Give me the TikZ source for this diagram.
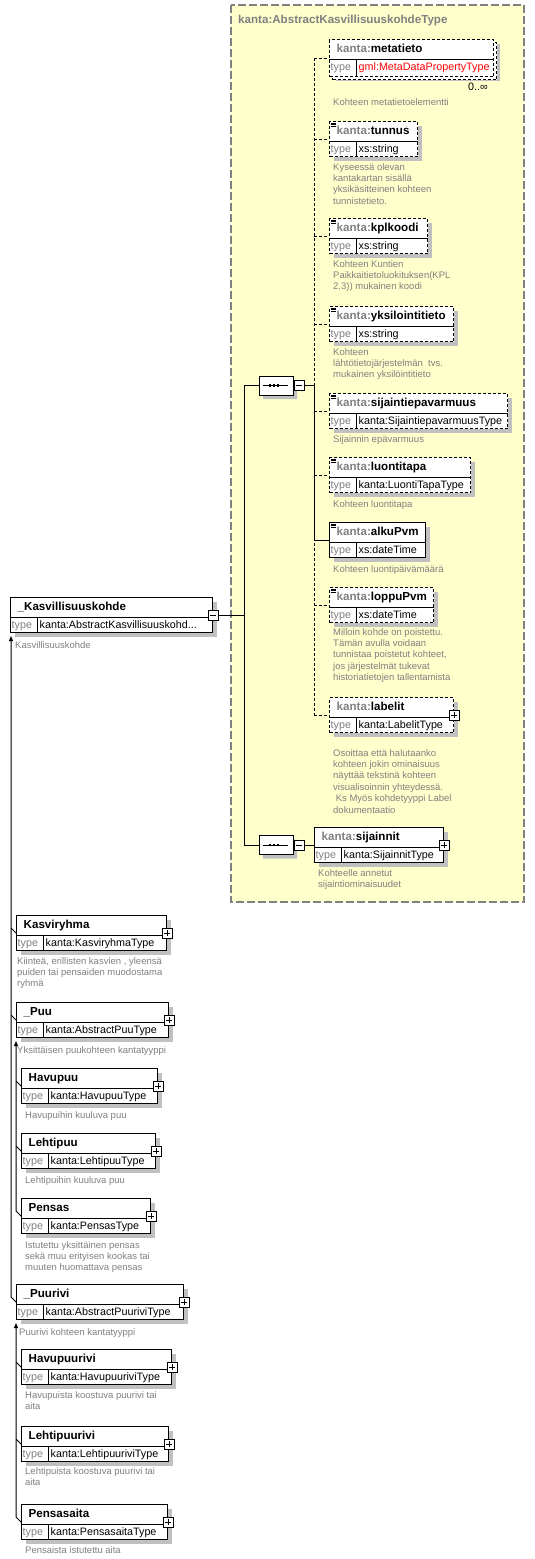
\documentclass[tikz,border=0pt]{standalone}
\usepackage{fontspec}
\setmainfont{Liberation Sans}
\usetikzlibrary{calc,positioning,shapes.misc,arrows.meta}

\definecolor{framefill}{RGB}{255,255,204}
\definecolor{framegray}{RGB}{128,128,128}
\definecolor{labelgray}{RGB}{128,128,128}
\definecolor{shadowgray}{RGB}{192,192,192}
\definecolor{reftype}{RGB}{255,0,0}

\newcommand{\kanta}[1]{\textcolor{labelgray}{kanta:}#1}

% element box: id, style, north west corner, width, header, type
\newcommand{\schemabox}[6]{%
  \node[#2, minimum width=#4, anchor=north west] (#1) at (#3) {};
  \draw[line width=1pt] ($(#1.north west)+(0,20)$) -- ($(#1.north east)+(0,20)$)
    ($(#1.north west)+(27,20)$) -- ($(#1.south west)+(27,0)$);
  \node[headtxt, anchor=west] (#1-head) at ($(#1.north west)+(7.5,9.5)$) {#5};
  \node[typetxt, text=labelgray, anchor=west] (#1-lbl) at ($(#1.north west)+(1.5,27.5)$) {type};
  \node[typetxt, anchor=west] (#1-type) at ($(#1.north west)+(29.5,27.5)$) {#6};
}
% small icon for simple content
\newcommand{\simpleicon}[1]{%
  \draw[line width=0.7pt] \foreach \d in {2,3.8,5.6} {($(#1.north west)+(1.5,\d)$) -- ++(5,0)};
}

\tikzset{
  shadowed/.style={preaction={fill=shadowgray, transform canvas={shift={(4,4)}}}},
  elemcore/.style={rectangle, draw=black, line width=1pt, fill=white, inner sep=0pt, minimum height=35},
  elembox/.style={elemcore, shadowed},
  optbox/.style={elembox, dash pattern=on 3pt off 2pt},
  multibox/.style={elemcore, dash pattern=on 3pt off 2pt, minimum height=37,
    preaction={fill=shadowgray, transform canvas={shift={(6,4)}}},
    preaction={fill=white, draw=black, transform canvas={shift={(3,3)}}}},
  signbox/.style={rectangle, draw=black, solid, line width=0.8pt, fill=white, minimum size=10, inner sep=0pt},
  plusbox/.style={signbox, path picture={\draw[line width=0.8pt]
    ([xshift=2pt]path picture bounding box.west) -- ([xshift=-2pt]path picture bounding box.east)
    ([yshift=-2pt]path picture bounding box.north) -- ([yshift=2pt]path picture bounding box.south);}},
  minusbox/.style={signbox, path picture={\draw[line width=0.8pt]
    ([xshift=2pt]path picture bounding box.west) -- ([xshift=-2pt]path picture bounding box.east);}},
  seqnode/.style={chamfered rectangle, chamfered rectangle xsep=5pt, chamfered rectangle ysep=5pt,
    draw=black, line width=1pt, fill=white, minimum width=34, minimum height=19, inner sep=0pt, shadowed},
  typeframe/.style={draw=framegray, fill=framefill, line width=1.2pt, dash pattern=on 8pt off 3pt},
  headtxt/.style={font=\fontsize{11.6}{13}\selectfont\bfseries, inner sep=0pt, text height=9pt, text depth=1pt},
  titletxt/.style={headtxt, text=labelgray},
  typetxt/.style={font=\fontsize{10.75}{12}\selectfont, inner sep=0pt, text height=8pt, text depth=1pt},
  desc/.style={font=\fontsize{9.5}{11.4}\selectfont, text=labelgray, inner sep=0pt, anchor=north west,
    align=left, execute at begin node=\strut},
  conn/.style={draw=black, line width=1pt},
  optline/.style={conn, dash pattern=on 3pt off 2pt},
  substline/.style={conn, shorten >=3pt, -{Triangle[length=5pt,width=4pt]}}
}

\begin{document}
\begin{tikzpicture}[x=1pt,y=-1pt]
\useasboundingbox (0,0) rectangle (535,1559);

% complex type
\draw[typeframe] (231,5) rectangle (524,902);
\node[titletxt, anchor=west] (frametitle) at (238,19.5) {kanta:AbstractKasvillisuuskohdeType};

% sequences
\node[seqnode] (seqA) at (276,385.5) {};
\node[minusbox, right=0pt of seqA] (seqA-m) {};
\node[seqnode] (seqB) at (276,845) {};
\node[minusbox, right=0pt of seqB] (seqB-m) {};
\foreach \s in {seqA,seqB} {
  \draw[conn] ([xshift=4pt]\s.west) -- ([xshift=-6pt]\s.east);
  \foreach \dx in {-6,-2,2}
    \fill ($(\s.center)+({\dx-1},-1.2)$) rectangle ++(2,2.4);
}

% elements of the first sequence
\schemabox{metatieto}{multibox}{329,39}{164}{\kanta{metatieto}}{\textcolor{reftype}{gml:MetaDataPropertyType}}
\node[typetxt, anchor=east] (metatieto-occ) at (488,87) {0..∞};
\schemabox{tunnus}{optbox}{329,121}{88}{\kanta{tunnus}}{xs:string}
\schemabox{kplkoodi}{optbox}{329,218}{98}{\kanta{kplkoodi}}{xs:string}
\schemabox{yksilointitieto}{optbox}{329,306}{124}{\kanta{yksilointitieto}}{xs:string}
\schemabox{sijaintiepavarmuus}{optbox}{329,393}{178}{\kanta{sijaintiepavarmuus}}{kanta:SijaintiepavarmuusType}
\schemabox{luontitapa}{optbox}{329,457}{141}{\kanta{luontitapa}}{kanta:LuontiTapaType}
\schemabox{alkuPvm}{elembox}{329,522}{96}{\kanta{alkuPvm}}{xs:dateTime}
\schemabox{loppuPvm}{optbox}{329,587}{104}{\kanta{loppuPvm}}{xs:dateTime}
\schemabox{labelit}{optbox}{329,697}{124}{\kanta{labelit}}{kanta:LabelitType}
\foreach \e in {tunnus,kplkoodi,yksilointitieto,sijaintiepavarmuus,luontitapa,alkuPvm,loppuPvm}
  \simpleicon{\e};

% element of the second sequence
\schemabox{sijainnit}{elembox}{314,827}{129}{\kanta{sijainnit}}{kanta:SijainnitType}

% root and substitution group members
\schemabox{kasvi}{elembox}{10,597}{202}{\_Kasvillisuuskohde}{kanta:AbstractKasvillisuuskohd...}
\schemabox{kasviryhma}{elembox}{16,915}{150}{Kasviryhma}{kanta:KasviryhmaType}
\schemabox{puu}{elembox}{16,1002}{152}{\_Puu}{kanta:AbstractPuuType}
\schemabox{havupuu}{elembox}{21,1068}{136}{Havupuu}{kanta:HavupuuType}
\schemabox{lehtipuu}{elembox}{21,1133}{134}{Lehtipuu}{kanta:LehtipuuType}
\schemabox{pensas}{elembox}{21,1198}{129}{Pensas}{kanta:PensasType}
\schemabox{puurivi}{elembox}{16,1284}{167}{\_Puurivi}{kanta:AbstractPuuriviType}
\schemabox{havupuurivi}{elembox}{21,1349}{150}{Havupuurivi}{kanta:HavupuuriviType}
\schemabox{lehtipuurivi}{elembox}{21,1426}{147}{Lehtipuurivi}{kanta:LehtipuuriviType}
\schemabox{pensasaita}{elembox}{21,1504}{146}{Pensasaita}{kanta:PensasaitaType}

% expand buttons
\node[minusbox] (kasvi-m) at (kasvi.east) {};
\foreach \e in {labelit,sijainnit,kasviryhma,puu,havupuu,lehtipuu,pensas,puurivi,havupuurivi,lehtipuurivi,pensasaita}
  \node[plusbox] (\e-p) at (\e.east) {};

% connectors
\coordinate (trunk) at ($(seqA.west)+(-14,0)$);
\coordinate (busA) at ($(seqA-m.east)+(10,0)$);
\draw[conn] (kasvi-m.east) -- (kasvi-m.east -| trunk);
\draw[conn] (seqA.west) -- (trunk) |- (seqB.west);
\draw[optline] (busA |- metatieto.west) -- (busA |- labelit.west);
\foreach \e in {metatieto,tunnus,kplkoodi,yksilointitieto,sijaintiepavarmuus,luontitapa,loppuPvm,labelit}
  \draw[optline] (busA |- \e.west) -- (\e.west);
\draw[conn] (seqA-m.east) -- (busA) |- (alkuPvm.west);
\draw[conn] (seqB-m.east) -- (sijainnit.west);

% substitution groups
\draw[substline] (puurivi.west) -- ++(-5,-5) coordinate (puurivi-t) -- (puurivi-t |- kasvi.south);
\draw[conn] (kasviryhma.west) -- ++(-5,-5);
\draw[conn] (puu.west) -- ++(-5,-5);
\draw[substline] (pensas.west) -- ++(-5,-5) coordinate (pensas-t) -- (pensas-t |- puu.south);
\draw[conn] (havupuu.west) -- ++(-5,-5);
\draw[conn] (lehtipuu.west) -- ++(-5,-5);
\draw[substline] (pensasaita.west) -- ++(-5,-5) coordinate (pensasaita-t) -- (pensasaita-t |- puurivi.south);
\draw[conn] (havupuurivi.west) -- ++(-5,-5);
\draw[conn] (lehtipuurivi.west) -- ++(-5,-5);

% documentation
\node[desc] (metatieto-doc) at (333,97) {Kohteen metatietoelementti};
\node[desc] (tunnus-doc) at (333,163) {Kyseessä olevan\\kantakartan sisällä\\yksikäsitteinen kohteen\\tunnistetieto.};
\node[desc] (kplkoodi-doc) at (333,260) {Kohteen Kuntien\\Paikkaitietoluokituksen(KPL\\2.3)) mukainen koodi};
\node[desc] (yksilointitieto-doc) at (333,348) {Kohteen\\lähtötietojärjestelmän\ \ tvs.\\mukainen yksilöintitieto};
\node[desc] (sijaintiepavarmuus-doc) at (333,434) {Sijainnin epävarmuus};
\node[desc] (luontitapa-doc) at (333,499) {Kohteen luontitapa};
\node[desc] (alkuPvm-doc) at (333,564) {Kohteen luontipäivämäärä};
\node[desc] (loppuPvm-doc) at (333,628) {Milloin kohde on poistettu.\\Tämän avulla voidaan\\tunnistaa poistetut kohteet,\\jos järjestelmät tukevat\\historiatietojen tallentamista};
\node[desc] (labelit-doc) at (333,749) {Osoittaa että halutaanko\\kohteen jokin ominaisuus\\näyttää tekstinä kohteen\\visualisoinnin yhteydessä.\\\ Ks Myös kohdetyyppi Label\\dokumentaatio};
\node[desc] (sijainnit-doc) at (318,869) {Kohteelle annetut\\sijaintiominaisuudet};
\node[desc] (kasvi-doc) at (15,640) {Kasvillisuuskohde};
\node[desc] (kasviryhma-doc) at (17,957) {Kiinteä, erillisten kasvien , yleensä\\puiden tai pensaiden muodostama\\ryhmä};
\node[desc] (puu-doc) at (17,1045) {Yksittäisen puukohteen kantatyyppi};
\node[desc] (havupuu-doc) at (25,1110) {Havupuihin kuuluva puu};
\node[desc] (lehtipuu-doc) at (25,1175) {Lehtipuihin kuuluva puu};
\node[desc] (pensas-doc) at (25,1241) {Istutettu yksittäinen pensas\\sekä muu erityisen kookas tai\\muuten huomattava pensas};
\node[desc] (puurivi-doc) at (19,1327) {Puurivi kohteen kantatyyppi};
\node[desc] (havupuurivi-doc) at (25,1391) {Havupuista koostuva puurivi tai\\aita};
\node[desc] (lehtipuurivi-doc) at (25,1467) {Lehtipuista koostuva puurivi tai\\aita};
\node[desc] (pensasaita-doc) at (25,1545) {Pensaista istutettu aita};
\end{tikzpicture}
\end{document}
